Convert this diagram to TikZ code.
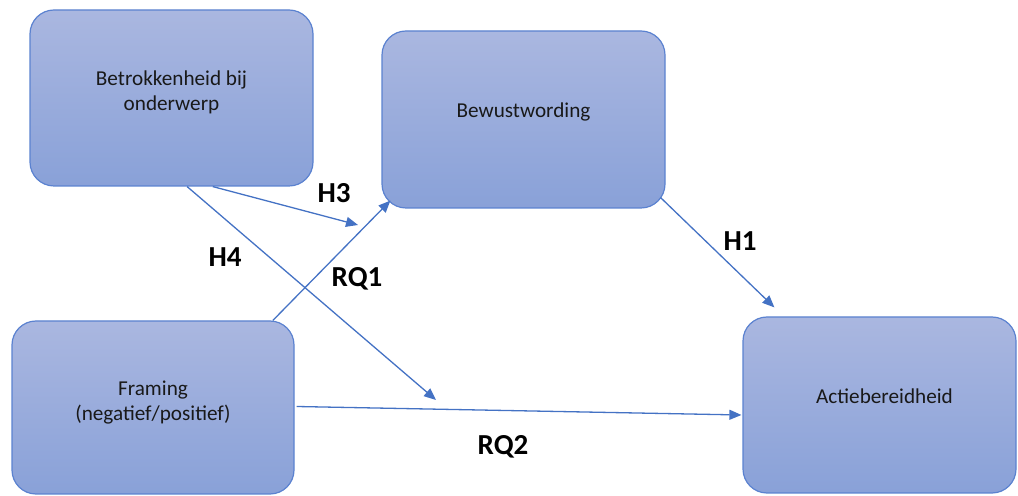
\documentclass[tikz,border=0pt]{standalone}
\usepackage{fontspec}
\setmainfont{Carlito}
\usetikzlibrary{arrows.meta,positioning,calc}
\definecolor{boxtop}{RGB}{170,183,224}
\definecolor{boxbot}{RGB}{137,161,216}
\definecolor{boxline}{RGB}{91,130,208}
\definecolor{pijlblauw}{RGB}{68,114,196}
\tikzset{
  box/.style={draw=boxline, line width=0.6pt, rounded corners=12pt, top color=boxtop, bottom color=boxbot, minimum width=141.5pt, minimum height=88pt, inner sep=0pt},
  boxtext/.style={align=center, font=\fontsize{10.6pt}{12.5pt}\selectfont, text=black!90, yshift=4pt},
  pijl/.style={draw=pijlblauw, line width=0.65pt, -{Triangle[length=6pt,width=5pt]}},
  hyp/.style={font=\fontsize{14.5pt}{17pt}\selectfont\bfseries, anchor=base, inner sep=0pt}
}

\begin{document}
\begin{tikzpicture}[x=0.5pt,y=-0.5pt]
\useasboundingbox (0,0) rectangle (1018,496);
%Blokken
\node[box,label={[boxtext,yshift=-1pt]center:Betrokkenheid bij\\onderwerp}] (betr) at (171.5,98) {};
\node[box,minimum height=88.5pt,label={[boxtext]center:Bewustwording}] (bew) at (523.5,119.5) {};
\node[box,minimum width=141pt,minimum height=86.5pt,label={[boxtext,yshift=-1.5pt]center:Framing\\(negatief/positief)}] (fram) at (153,407.5) {};
\node[box,minimum width=136.5pt,label={[boxtext,yshift=0.5pt,xshift=2.5pt]center:Actiebereidheid}] (acti) at (879.5,405) {};
%Losse eindpunten
\coordinate (h3eind) at (358,225);
\coordinate (h4eind) at (436,400);
%Verbindingen
\draw[pijl] (betr.-65) -- (h3eind);
\draw[pijl] (betr.-80) -- (h4eind);
\draw[pijl] (fram.36) -- ($(bew.south west)+(9,-8)$);
\draw[pijl] ($(fram.east)+(2,-1)$) -- ($(acti.west)+(-1,10)$);
\draw[pijl] ($(bew.south east)+(-5,-11)$) -- ($(acti.north west)+(32,-9)$);
%Labels
\node[hyp] (lh3) at (334,203) {H3};
\node[hyp] (lh4) at (225,267) {H4};
\node[hyp] (lrq1) at (357,287) {RQ1};
\node[hyp] (lh1) at (740,251) {H1};
\node[hyp] (lrq2) at (503,455) {RQ2};
\end{tikzpicture}
\end{document}
